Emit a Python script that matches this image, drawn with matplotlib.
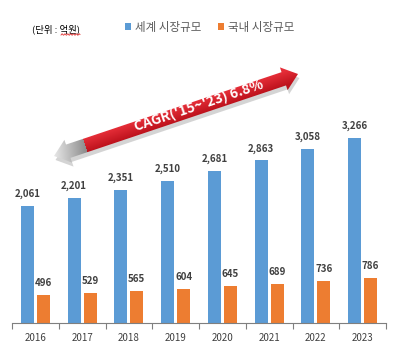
import numpy as np
import matplotlib.pyplot as plt
from matplotlib.patches import Polygon

plt.rcParams['font.family'] = ['Noto Sans CJK KR', 'DejaVu Sans']

# 시장규모 (단위: 억원)
years = ['2016', '2017', '2018', '2019', '2020', '2021', '2022', '2023']
world = [2061, 2201, 2351, 2510, 2681, 2863, 3058, 3266]
korea = [496, 529, 565, 604, 645, 689, 736, 786]
world_label = '세계 시장규모'
korea_label = '국내 시장규모'
cagr_text = "CAGR('15~'23) 6.8%"

blue = '#5B9BD5'
orange = '#ED7D31'
txt = '#404040'

W, H = 394, 349
fig = plt.figure(figsize=(W / 100, H / 100), dpi=100)
ax = fig.add_axes([12 / W, 1 - 323 / H, 374 / W, 283 / H])

x = np.arange(len(years))
bw, off = 0.28, 0.17
b1 = ax.bar(x - off, world, bw, color=blue, label=world_label)
b2 = ax.bar(x + off, korea, bw, color=orange, label=korea_label)

for bars, vals in ((b1, world), (b2, korea)):
    for r, v in zip(bars, vals):
        ax.annotate(f'{v:,}', (r.get_x() + r.get_width() / 2, v),
                    xytext=(0, 5), textcoords='offset points',
                    ha='center', va='bottom', fontsize=7,
                    fontweight='bold', color=txt)

ax.set_xlim(-0.5, len(years) - 0.5)
ax.set_ylim(0, 4985)
ax.set_xticks(x)
ax.set_xticklabels(years, fontsize=7, color=txt)
ax.set_xticks(np.arange(-0.5, len(years)), minor=True)
ax.tick_params(axis='x', which='major', length=0, pad=7)
ax.tick_params(axis='x', which='minor', length=4, color='#7F7F7F', width=0.8)
ax.set_yticks([])
for s in ('top', 'right', 'left'):
    ax.spines[s].set_visible(False)
ax.spines['bottom'].set_color('#7F7F7F')
ax.spines['bottom'].set_linewidth(0.8)

fig.legend(handles=[b1, b2], loc='center left',
           bbox_to_anchor=(119 / W, 1 - 27 / H), ncol=2, frameon=False,
           fontsize=8.3, handlelength=0.55, handleheight=0.55,
           handletextpad=0.35, columnspacing=1.4, borderpad=0,
           labelcolor='#595959')

fig.text(32 / W, 1 - 29 / H, '(단위 : 억원)', fontsize=6.8, color='black',
         va='center', ha='left')

# overlay in pixel coordinates for the growth arrow
ov = fig.add_axes([0, 0, 1, 1], zorder=5)
ov.patch.set_alpha(0)

# spell-check squiggle under the unit
sx = np.linspace(61, 80, 60)
ov.plot(sx, 34.5 + 0.7 * np.sin(sx * 2.2), color='#E03030', lw=0.6)

p0 = np.array([54.0, 156.0])
p1 = np.array([298.0, 74.0])
d = p1 - p0
L = np.hypot(*d)
u = d / L
n = np.array([-u[1], u[0]])
hl, hw, sw = 15, 12, 7
local = [(0, 0), (hl, -hw), (hl, -sw), (L - hl, -sw), (L - hl, -hw), (L, 0),
         (L - hl, hw), (L - hl, sw), (hl, sw), (hl, hw)]
pts = np.array([p0 + s * u + t * n for s, t in local])

shadow = Polygon(pts + np.array([1.5, 4.0]), closed=True, color='#B8B8B8',
                 alpha=0.6, lw=0, zorder=1)
ov.add_patch(shadow)

# colour field: grey fade at the left head, shaded red elsewhere
gx, gy = np.meshgrid(np.arange(W) + 0.5, np.arange(H) + 0.5)
rel_x, rel_y = gx - p0[0], gy - p0[1]
s_ = rel_x * u[0] + rel_y * u[1]
t_ = rel_x * n[0] + rel_y * n[1]
img = np.zeros((H, W, 3))
red_top = np.array([0.90, 0.18, 0.22])
red_bot = np.array([0.74, 0.07, 0.11])
f = np.clip((t_ + sw) / (2 * sw), 0, 1)[..., None]
img[:] = red_top * (1 - f) + red_bot * f
gray_end = 33
g = np.clip(s_ / gray_end, 0, 1)
gval = 0.93 - 0.35 * g
gray_mask = s_ < gray_end
for c in range(3):
    img[..., c] = np.where(gray_mask, gval - 0.04 * f[..., 0], img[..., c])

arrow = Polygon(pts, closed=True, facecolor='none', edgecolor='none')
ov.add_patch(arrow)
im = ov.imshow(img, extent=[0, W, H, 0], aspect='auto',
               interpolation='bilinear', zorder=2)
im.set_clip_path(arrow)

mid = p0 + 153 * u
ang = np.degrees(np.arctan2(-d[1], d[0]))
ov.text(mid[0], mid[1] - 1, cagr_text, color='white', fontsize=10,
        fontweight='bold', rotation=ang, rotation_mode='anchor',
        ha='center', va='center', zorder=3)

ov.set_xlim(0, W)
ov.set_ylim(H, 0)
ov.axis('off')

fig.savefig('out.png', dpi=100)
